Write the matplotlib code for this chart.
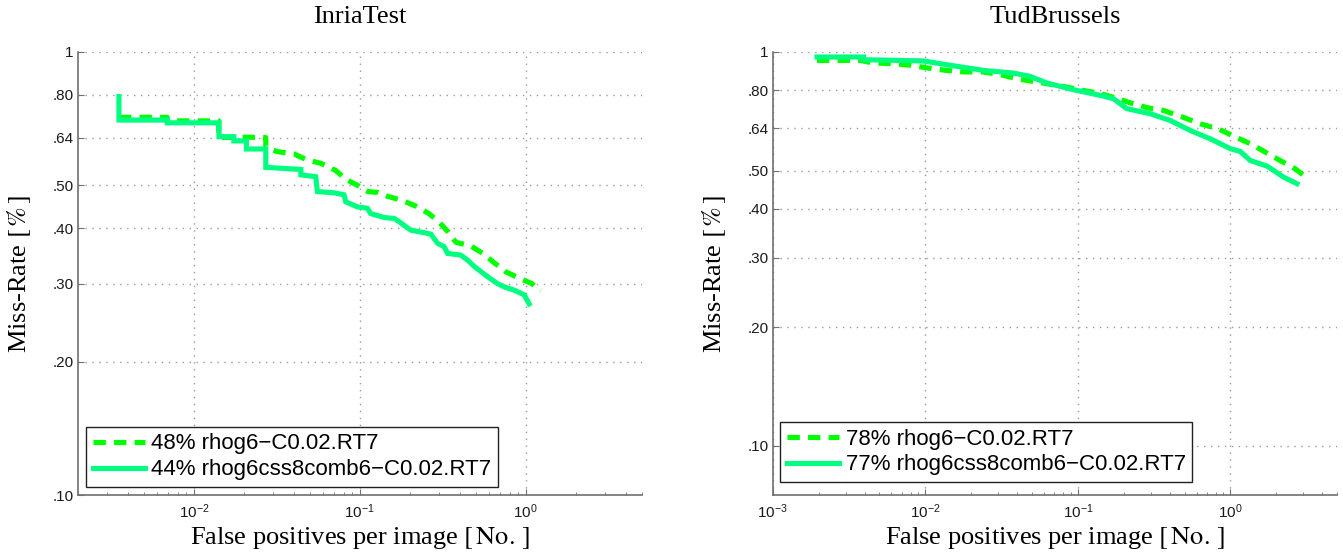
import math
import matplotlib
matplotlib.use("Agg")
import matplotlib.pyplot as plt
from matplotlib.ticker import FixedLocator, FuncFormatter, LogLocator, NullLocator, NullFormatter

# ---------------- data ----------------
titles = ["InriaTest", "TudBrussels"]

inria_labels = ["48% rhog6\u2212C0.02.RT7", "44% rhog6css8comb6\u2212C0.02.RT7"]
tud_labels = ["78% rhog6\u2212C0.02.RT7", "77% rhog6css8comb6\u2212C0.02.RT7"]

# InriaTest, rhog6 (dashed)
inria_rhog_fppi = [0.00353, 0.0069, 0.0069, 0.0141, 0.0141, 0.0215, 0.0271, 0.0271, 0.0316, 0.0400,
                   0.0483, 0.058, 0.0716, 0.0822, 0.0988, 0.112, 0.128, 0.145, 0.181, 0.220, 0.260,
                   0.299, 0.339, 0.379, 0.466, 0.551, 0.642, 0.758, 0.909, 1.09, 1.23]
inria_rhog_miss = [0.712, 0.712, 0.699, 0.699, 0.641, 0.642, 0.641, 0.610, 0.596, 0.589,
                   0.570, 0.561, 0.540, 0.516, 0.498, 0.484, 0.482, 0.473, 0.462, 0.448, 0.432,
                   0.414, 0.393, 0.372, 0.365, 0.351, 0.335, 0.319, 0.309, 0.300, 0.289]

# InriaTest, rhog6css8comb6 (solid)
inria_comb_fppi = [0.00353, 0.00353, 0.0069, 0.0069, 0.01415, 0.01415, 0.0174, 0.0174, 0.0207, 0.0207,
                   0.0271, 0.0271, 0.0441, 0.0441, 0.0542, 0.0555, 0.0698, 0.0803, 0.0822, 0.0967,
                   0.111, 0.116, 0.140, 0.161, 0.177, 0.203, 0.244, 0.268, 0.294, 0.322, 0.338,
                   0.406, 0.446, 0.489, 0.589, 0.676, 0.742, 0.852, 0.978, 1.048]
inria_comb_miss = [0.793, 0.702, 0.702, 0.692, 0.692, 0.644, 0.644, 0.630, 0.630, 0.604,
                   0.604, 0.549, 0.543, 0.528, 0.523, 0.484, 0.481, 0.476, 0.459, 0.447,
                   0.444, 0.432, 0.423, 0.421, 0.411, 0.396, 0.391, 0.388, 0.370, 0.3636, 0.351,
                   0.348, 0.339, 0.328, 0.311, 0.300, 0.295, 0.290, 0.283, 0.270]

# TudBrussels, rhog6 (dashed)
tud_rhog_fppi = [0.00195, 0.00373, 0.00454, 0.00615, 0.00806, 0.0103, 0.0137, 0.0177, 0.0239, 0.0310,
                 0.0400, 0.0509, 0.0838, 0.108, 0.140, 0.178, 0.220, 0.285, 0.362, 0.483, 0.634,
                 0.832, 1.08, 1.35, 1.69, 2.12, 2.66, 3.24]
tud_rhog_miss = [0.952, 0.952, 0.938, 0.934, 0.925, 0.911, 0.898, 0.890, 0.890, 0.876,
                 0.855, 0.842, 0.815, 0.799, 0.784, 0.764, 0.743, 0.722, 0.711, 0.684, 0.657,
                 0.638, 0.608, 0.585, 0.557, 0.530, 0.505, 0.476]

# TudBrussels, rhog6css8comb6 (solid)
tud_comb_fppi = [0.00195, 0.00393, 0.00393, 0.00972, 0.0146, 0.0241, 0.0378, 0.0487, 0.0626, 0.0936,
                 0.140, 0.171, 0.209, 0.298, 0.403, 0.545, 0.736, 1.0, 1.16, 1.35, 1.74, 2.23, 2.73]
tud_comb_miss = [0.971, 0.971, 0.956, 0.949, 0.925, 0.898, 0.884, 0.867, 0.834, 0.802,
                 0.776, 0.761, 0.718, 0.697, 0.670, 0.632, 0.602, 0.568, 0.559, 0.530, 0.513, 0.481, 0.463]

ytick_vals = [0.10, 0.20, 0.30, 0.40, 0.50, 0.64, 0.80, 1.0]
ytick_labels = [".10", ".20", ".30", ".40", ".50", ".64", ".80", "1"]
xtick_exps = [-3, -2, -1, 0]

# ---------------- style ----------------
plt.rcParams["mathtext.fontset"] = "stix"
SERIF = "Liberation Serif"
SANS = "Liberation Sans"
DASH_COLOR = "#00ff00"
SOLID_COLOR = "#00ff80"
SPINE = "#707070"

fig = plt.figure(figsize=(13.43, 5.56), dpi=100)
ax_l = fig.add_axes([0.0581, 0.1097, 0.4197, 0.7968])
ax_r = fig.add_axes([0.5754, 0.1097, 0.4202, 0.7968])

panels = [
    (ax_l, titles[0], inria_rhog_fppi, inria_rhog_miss, inria_comb_fppi, inria_comb_miss,
     inria_labels, (2e-3, 5.0), (0.1, 1.0), (0.014, 0.018)),
    (ax_r, titles[1], tud_rhog_fppi, tud_rhog_miss, tud_comb_fppi, tud_comb_miss,
     tud_labels, (1e-3, 5.0), (0.075, 1.0), (0.013, 0.029)),
]

label_map = dict(zip(ytick_vals, ytick_labels))

for ax, title, dx, dy, sx, sy, labels, xlim, ylim, lg_anchor in panels:
    ax.set_xscale("log")
    ax.set_yscale("log")
    ln1, = ax.plot(dx, dy, color=DASH_COLOR, lw=3.7, linestyle=(0, (2.4, 1.6)),
                   solid_capstyle="butt", dash_capstyle="butt", zorder=3)
    ln2, = ax.plot(sx, sy, color=SOLID_COLOR, lw=3.7, linestyle="-",
                   solid_joinstyle="miter", zorder=4)
    ax.set_xlim(*xlim)
    ax.set_ylim(*ylim)

    ax.yaxis.set_major_locator(FixedLocator(ytick_vals))
    ax.yaxis.set_major_formatter(FuncFormatter(lambda v, p: label_map.get(round(v, 2), "")))
    ax.yaxis.set_minor_locator(NullLocator())
    ax.yaxis.set_minor_formatter(NullFormatter())

    ax.xaxis.set_major_locator(FixedLocator([10.0 ** e for e in xtick_exps]))
    ax.xaxis.set_major_formatter(FuncFormatter(
        lambda v, p: r"$\mathregular{10^{%d}}$" % round(math.log10(v))))
    ax.xaxis.set_minor_locator(LogLocator(base=10, subs=range(2, 10), numticks=20))
    ax.xaxis.set_minor_formatter(NullFormatter())

    ax.grid(True, which="major", linestyle=(0, (1, 4)), color="#9a9a9a", linewidth=1.0)
    ax.set_axisbelow(True)

    for s in ("top", "right"):
        ax.spines[s].set_visible(False)
    for s in ("left", "bottom"):
        ax.spines[s].set_color(SPINE)
        ax.spines[s].set_linewidth(1.2)

    ax.tick_params(axis="both", which="both", direction="in", colors=SPINE,
                   labelcolor="#1a1a1a", labelsize=11, top=False, right=False)
    ax.tick_params(axis="both", which="major", length=4)
    ax.tick_params(axis="x", which="minor", length=2)
    ax.tick_params(axis="y", which="major", pad=3)
    ax.tick_params(axis="x", which="major", pad=5)
    for lab in ax.get_xticklabels() + ax.get_yticklabels():
        lab.set_fontfamily(SANS)

    ax.set_title(title, fontsize=19, fontfamily=SERIF, pad=21)
    ax.set_xlabel(r"False positives per image $[\,\mathrm{No.}\,]$", fontsize=19, fontfamily=SERIF)
    ax.set_ylabel(r"Miss-Rate $[\,\%\,]$", fontsize=19, fontfamily=SERIF)
    ax.xaxis.set_label_coords(0.5, -0.068)
    ax.yaxis.set_label_coords(-0.079, 0.5)

    lg = ax.legend([ln1, ln2], labels, loc="lower left", bbox_to_anchor=lg_anchor,
                   borderaxespad=0, fancybox=False, framealpha=1, edgecolor="#222222",
                   prop={"family": SANS, "size": 16}, handlelength=2.35, handletextpad=0.3,
                   labelspacing=0.22, borderpad=0.3)
    lg.get_frame().set_linewidth(1.0)
    lg.set_zorder(5)

fig.savefig("out.png", dpi=100)
